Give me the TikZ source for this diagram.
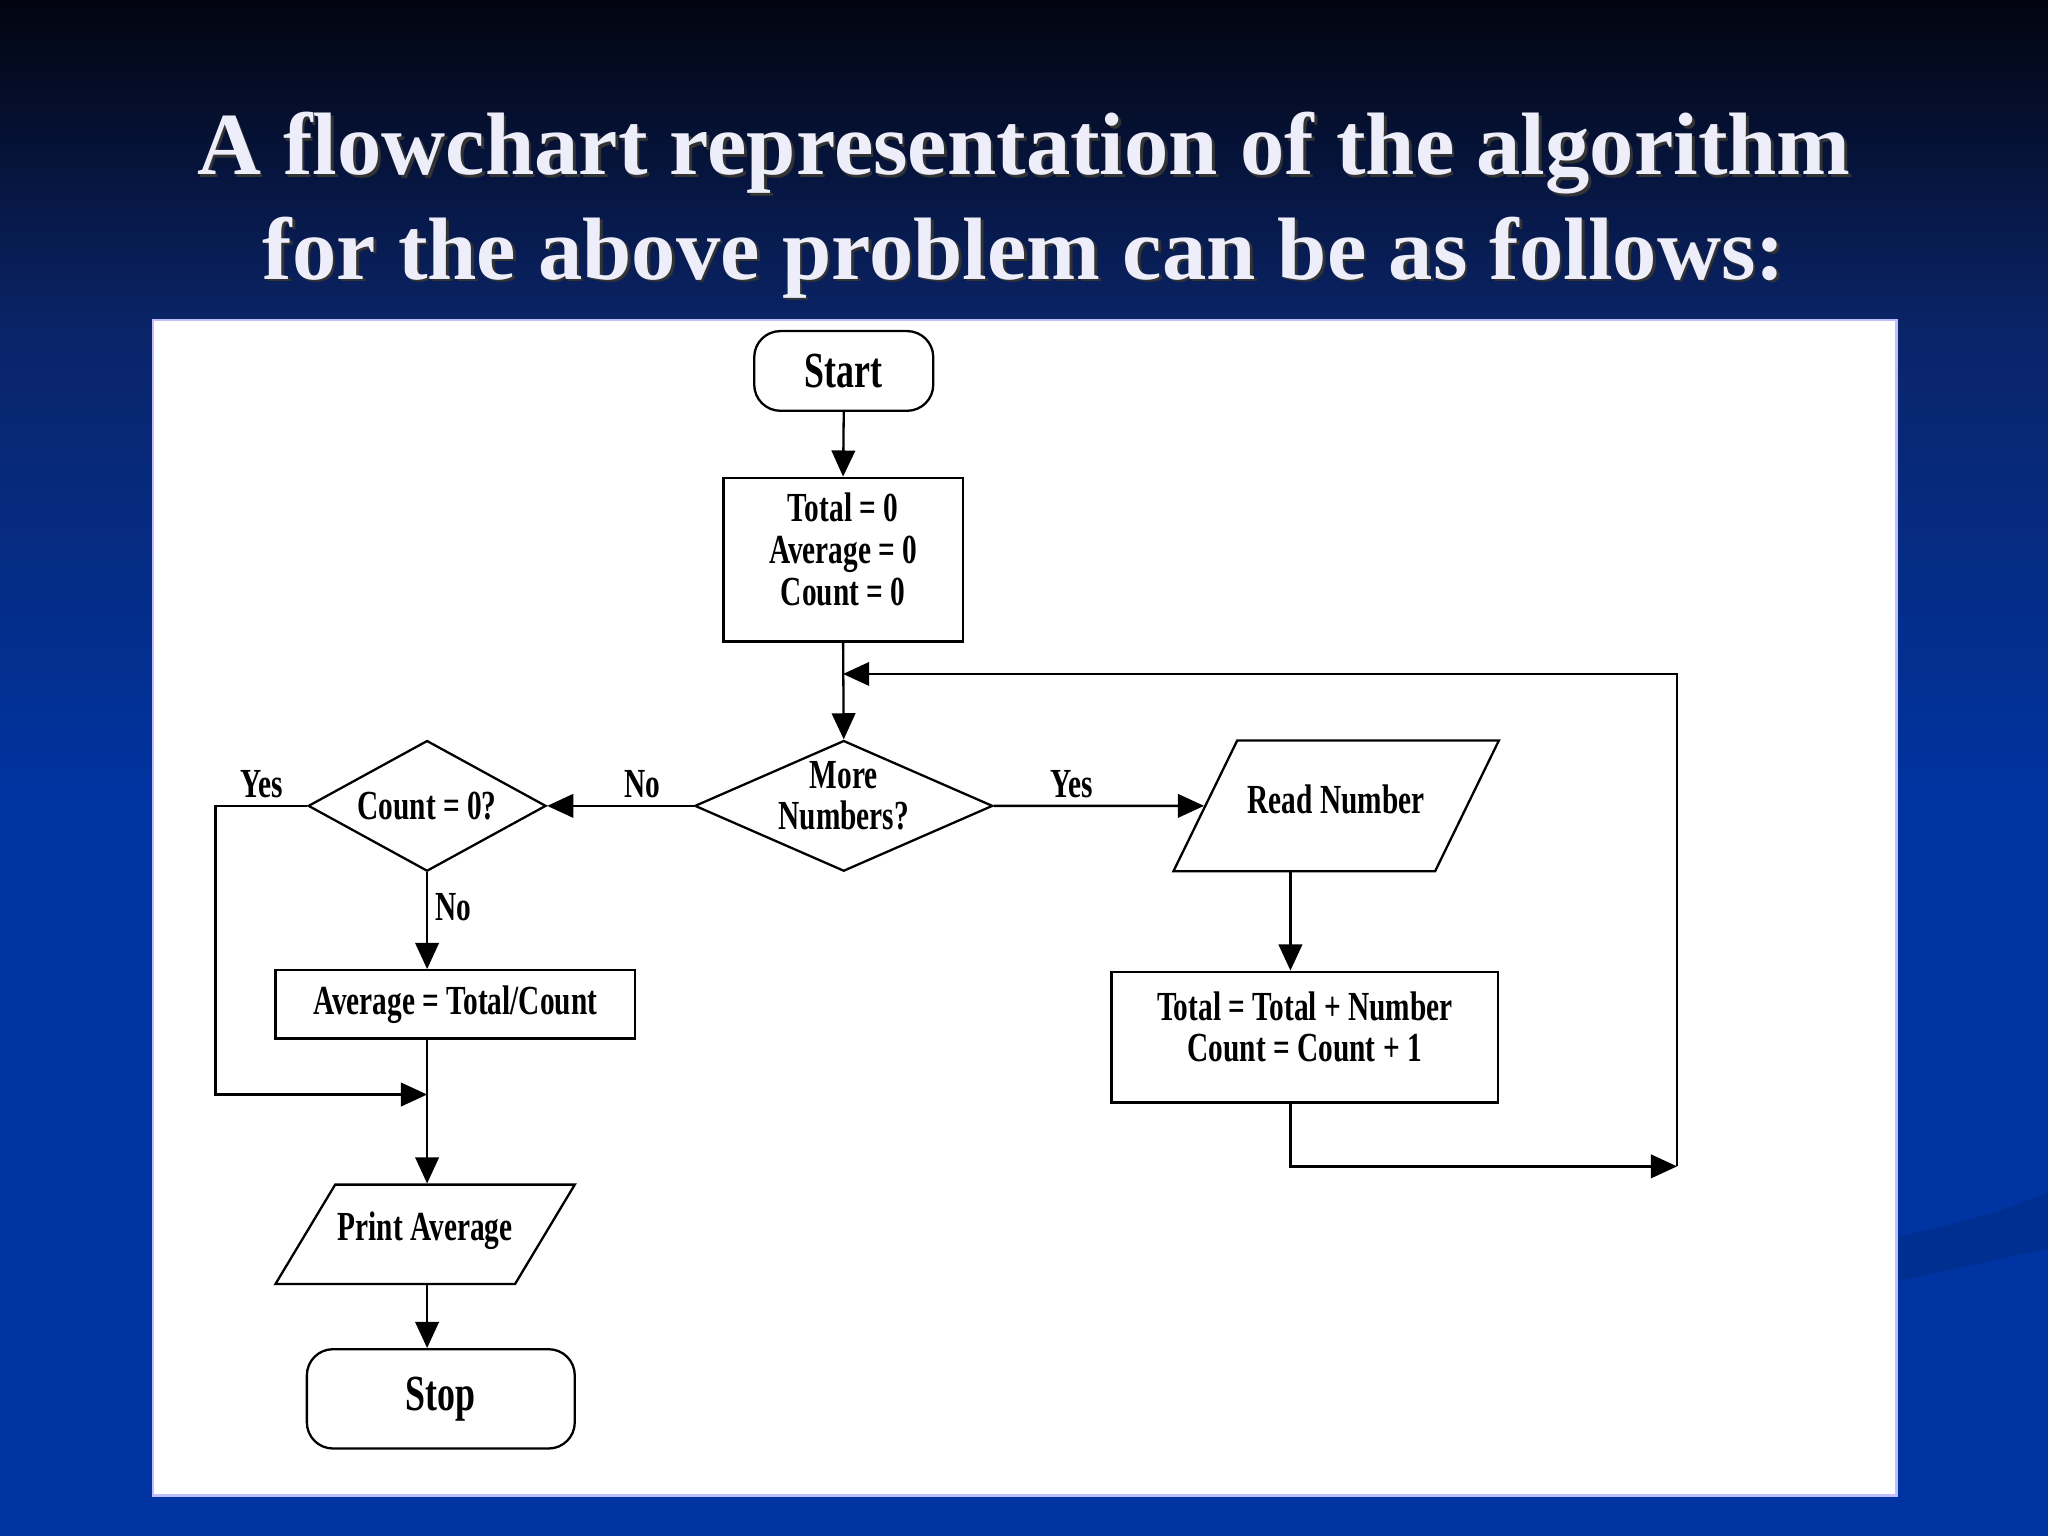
\documentclass[tikz,border=0pt]{standalone}
\usepackage{fontspec}
\setmainfont{Liberation Serif}
\newfontfamily\chartfont{Liberation Serif}[FakeStretch=0.71]
\usetikzlibrary{shapes.geometric,arrows.meta}

\definecolor{bgtop}{HTML}{02040F}
\definecolor{bgmid}{HTML}{0A2468}
\definecolor{bgbot}{HTML}{0034A2}
\definecolor{bgwave}{HTML}{002F92}
\definecolor{titlefg}{HTML}{EEEEFA}

\tikzset{
  chart/.style={font=\chartfont\bfseries\fontsize{9}{9.1}\selectfont},
  terminal/.style={draw, rectangle, rounded corners=0.2cm, font=\chartfont\bfseries\fontsize{11}{12}\selectfont},
  process/.style={chart, draw, rectangle, align=center},
  decision/.style={chart, draw, diamond, align=center, inner sep=0pt},
  inout/.style={chart, draw, trapezium, trapezium stretches body, inner sep=0pt},
  arrow/.style={-{Triangle[length=0.2cm,width=0.18cm]}},
  lbl/.style={chart, inner sep=1.5pt},
  headline/.style={font=\bfseries\fontsize{19.3}{22.8}\selectfont, align=center}
}

\begin{document}
\begin{tikzpicture}[x=0.01cm, y=-0.01cm, line width=0.5pt]
  \useasboundingbox (0,0) rectangle (1568,1176);
  % slide background
  \shade[top color=bgtop, bottom color=bgmid] (0,0) rectangle (1568,251);
  \shade[top color=bgmid, bottom color=bgbot] (0,250) rectangle (1568,621);
  \fill[bgbot] (0,620) rectangle (1568,1176);
  \fill[bgwave] (1452,947) .. controls (1500,937) and (1535,927) .. (1568,913)
    -- (1568,956) .. controls (1535,963) and (1500,971) .. (1452,981) -- cycle;
  \fill[white, draw=blue!25] (117,245) rectangle (1452,1145);

  % title
  \node[headline, black!80] (titleshade) at (786,159)
    {A flowchart representation of the algorithm\\for the above problem can be as follows:};
  \node[headline, titlefg] (title) at (784,157)
    {A flowchart representation of the algorithm\\for the above problem can be as follows:};

  % flowchart
  \node[terminal, minimum width=1.37cm, minimum height=0.61cm] (start) at (646,284) {Start};
  \node[process, minimum width=1.83cm, minimum height=1.25cm, text depth=0.16cm] (init) at (645.5,428.5)
    {Total = 0\\Average = 0\\Count = 0};
  \node[decision, minimum width=2.28cm, minimum height=1cm, aspect=2.28,
    inner xsep=-0.1cm, inner ysep=-0.05cm, text depth=0.16cm] (more) at (646,617)
    {More\\Numbers?};
  \node[decision, minimum width=1.82cm, minimum height=1cm, aspect=1.82] (zero) at (327,617)
    {Count = 0?};
  \node[inout, minimum width=2.49cm, text height=0.555cm, text depth=0.445cm,
    trapezium left angle=64, trapezium right angle=116] (read) at (1023,617) {Read Number};
  \node[process, minimum width=2.96cm, minimum height=1cm, text depth=0.16cm] (update) at (999,794)
    {Total = Total + Number\\Count = Count + 1};
  \node[process, minimum width=2.75cm, minimum height=0.5cm] (avg) at (348.5,769)
    {Average = Total/Count};
  \node[inout, minimum width=2.29cm, text height=0.43cm, text depth=0.33cm,
    trapezium left angle=59, trapezium right angle=121] (print) at (325.5,945) {Print Average};
  \node[terminal, minimum width=2.05cm, minimum height=0.76cm] (stop) at (337.5,1071) {Stop};

  \coordinate (rightcol) at (988,700);
  \coordinate (leftcol) at (165,700);
  \coordinate (loopbot) at (1284,893);
  \coordinate (looptop) at (1284,516);
  \coordinate (joinyes) at (327,838);

  \draw[arrow] (start.south) -- (init.north);
  \draw[arrow] (init.south) -- (more.north);
  \draw[arrow] (more.west) -- node[lbl, above, pos=0.35] {No} (zero.east);
  \draw[arrow] (more.east) -- node[lbl, above, pos=0.37] {Yes} (read.west);
  \draw[arrow] (read.south -| rightcol) -- (update.north -| rightcol);
  \draw[arrow] (update.south -| rightcol) |- (loopbot);
  \draw[arrow] (loopbot) -- (looptop) -- (init.south |- looptop);
  \draw[arrow] (zero.south) -- node[lbl, right, pos=0.36] {No} (avg.north -| zero.south);
  \draw[arrow] (zero.west) -- node[lbl, above] {Yes} (zero.west -| leftcol) |- (joinyes);
  \draw[arrow] (avg.south -| zero.south) -- (print.north -| zero.south);
  \draw[arrow] (print.south -| zero.south) -- (stop.north -| zero.south);
\end{tikzpicture}
\end{document}
